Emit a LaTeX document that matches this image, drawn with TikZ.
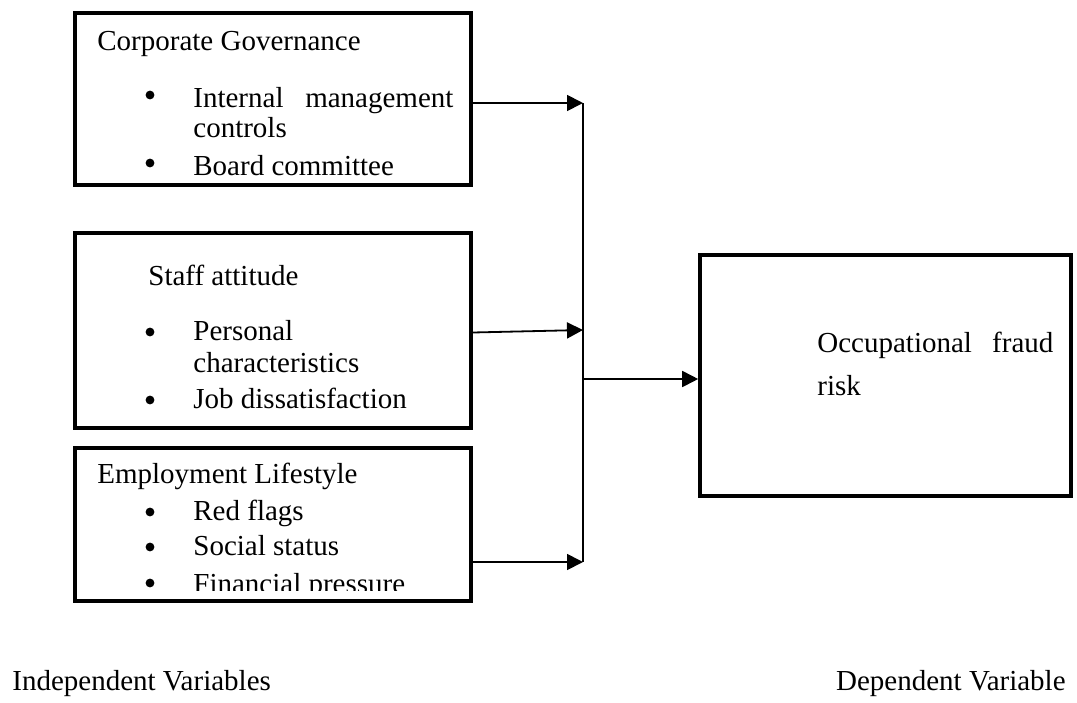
\documentclass[tikz,border=0pt]{standalone}
\usepackage{fontspec}
\setmainfont{Liberation Serif}
\usetikzlibrary{arrows.meta,positioning}

\begin{document}
\begin{tikzpicture}[
    x=0.5pt, y=-0.5pt,
    every node/.style={font=\fontsize{14.5}{17}\selectfont},
    varbox/.style={draw, line width=1.8pt, inner sep=0pt},
    txt/.style={anchor=base west, inner sep=0pt},
    arrow/.style={line width=0.9pt, -{Triangle[length=8pt, width=8pt]}},
    bus/.style={line width=0.9pt}
  ]
    \useasboundingbox (0,0) rectangle (1077,702);

    % Independent variable boxes
    \node[varbox, minimum width=198pt, minimum height=86pt] (cg) at (273,99) {};
    \node[varbox, minimum width=198pt, minimum height=97.5pt] (sa) at (273,330.5) {};
    \node[varbox, minimum width=198pt, minimum height=76.5pt] (el) at (273,524.5) {};

    % Dependent variable box
    \node[varbox, minimum width=185.5pt, minimum height=120.5pt] (ofr) at (885.5,375.5) {};

    % Corporate governance text
    \node[txt] (cgtitle) at (97,50) {Corporate Governance};
    \fill (150,95) circle (2.2pt);
    \node[txt] (cgitem1) at (193,107) {\makebox[130pt][s]{Internal management}};
    \node[txt] (cgitem1b) at (193,137) {controls};
    \fill (150,163) circle (2.2pt);
    \node[txt] (cgitem2) at (193,175) {Board committee};

    % Staff attitude text
    \node[txt] (satitle) at (148,285) {Staff attitude};
    \fill (150,332) circle (2.2pt);
    \node[txt] (saitem1) at (193,340) {Personal};
    \node[txt] (saitem1b) at (193,372) {characteristics};
    \fill (150,400) circle (2.2pt);
    \node[txt] (saitem2) at (193,408) {Job dissatisfaction};

    % Employment lifestyle text
    \node[txt] (eltitle) at (97,483) {Employment Lifestyle};
    \fill (150,512) circle (2.2pt);
    \node[txt] (elitem1) at (193,520) {Red flags};
    \fill (150,547) circle (2.2pt);
    \node[txt] (elitem2) at (193,555) {Social status};
    \fill (150,583) circle (2.2pt);
    \begin{scope}
      \clip (160,560) rectangle (460,590.5);
      \node[txt] (elitem3) at (193,593) {Financial pressure};
    \end{scope}

    % Outcome text
    \node[txt] (ofrtext) at (817,352) {\makebox[118pt][s]{Occupational fraud}};
    \node[txt] (ofrtext2) at (817,395) {risk};

    % Bus line
    \coordinate (bustop) at (583,103);
    \coordinate (busmid) at (583,330);
    \coordinate (busout) at (583,379);
    \coordinate (busbot) at (583,562);
    \draw[bus] (bustop) -- (busbot);

    % Connections
    \draw[arrow] (cg.east |- bustop) -- (bustop);
    \draw[arrow] ([yshift=-1pt]sa.east) -- (busmid);
    \draw[arrow] (el.east |- busbot) -- (busbot);
    \draw[arrow] (busout) -- (ofr.west |- busout);

    % Captions
    \node[txt] (indep) at (12,690) {Independent Variables};
    \node[anchor=base east, inner sep=0pt] (dep) at (1066,690) {Dependent Variable};

  \end{tikzpicture}
\end{document}
